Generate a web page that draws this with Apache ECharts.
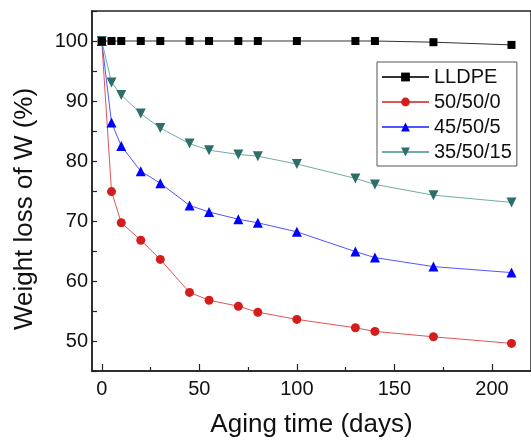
<!DOCTYPE html>
<html>
<head>
<meta charset="utf-8">
<script src="https://cdn.jsdelivr.net/npm/echarts@6/dist/echarts.min.js"></script>
<style>
html,body{margin:0;padding:0;background:#fff;}
#chart{width:531px;height:443px;}
</style>
</head>
<body>
<div id="chart"></div>
<script>
const days = [0, 5, 10, 20, 30, 45, 55, 70, 80, 100, 130, 140, 170, 210];
const seriesNames = ['LLDPE', '50/50/0', '45/50/5', '35/50/15'];
const lldpe = [100, 100, 100, 100, 100, 100, 100, 100, 100, 100, 100, 100, 99.8, 99.35];
const s50_50_0 = [100, 74.9, 69.7, 66.8, 63.6, 58.1, 56.8, 55.8, 54.8, 53.6, 52.2, 51.6, 50.7, 49.6];
const s45_50_5 = [100, 86.4, 82.5, 78.3, 76.3, 72.6, 71.5, 70.3, 69.7, 68.2, 64.9, 63.9, 62.4, 61.4];
const s35_50_15 = [100, 93.1, 91.0, 87.9, 85.5, 82.9, 81.8, 81.1, 80.8, 79.5, 77.1, 76.1, 74.3, 73.1];
const xMajorTicks = [0, 50, 100, 150, 200];
const xMinorTicks = [25, 75, 125, 175];
const xTitle = 'Aging time (days)';
const yTitle = 'Weight loss of W (%)';

const font = 'Liberation Sans, Arial, sans-serif';
const pair = arr => days.map((d, i) => [d, arr[i]]);

const chart = echarts.init(document.getElementById('chart'), null, {renderer: 'canvas'});
chart.setOption({
  backgroundColor: '#ffffff',
  animation: false,
  grid: {left: 92, top: 11, bottom: 71, right: -4, show: true, borderColor: '#222', borderWidth: 1.5, backgroundColor: 'transparent'},
  xAxis: [{
    type: 'value', min: -5, max: 220, position: 'bottom',
    axisLine: {show: true, onZero: false, lineStyle: {color: '#222', width: 1.5}},
    axisTick: {show: true, inside: true, length: 7, customValues: xMajorTicks, lineStyle: {color: '#222', width: 1.2}},
    axisLabel: {customValues: xMajorTicks, fontSize: 20, color: '#111', fontFamily: font, margin: 8},
    splitLine: {show: false},
    name: xTitle, nameLocation: 'middle', nameGap: 41,
    nameTextStyle: {fontSize: 26, color: '#111', fontFamily: font}
  }, {
    type: 'value', min: -5, max: 220, position: 'bottom',
    axisLine: {show: false, onZero: false},
    axisTick: {show: true, inside: true, length: 4, customValues: xMinorTicks, lineStyle: {color: '#222', width: 1.2}},
    axisLabel: {show: false},
    splitLine: {show: false}
  }],
  yAxis: {
    type: 'value', min: 45, max: 105, interval: 5,
    axisLine: {show: true, onZero: false, lineStyle: {color: '#222', width: 1.5}},
    axisTick: {show: true, inside: true, length: 5, lineStyle: {color: '#222', width: 1.2}},
    axisLabel: {fontSize: 20, color: '#111', fontFamily: font, margin: 4,
      formatter: v => (v % 10 === 0 ? String(v) : '')},
    splitLine: {show: false}
  },
  graphic: [{
    type: 'text', x: 25, y: 209, rotation: Math.PI / 2,
    style: {text: yTitle, font: '26px ' + font, fill: '#111', textAlign: 'center', textVerticalAlign: 'middle'}
  }],
  legend: {
    orient: 'vertical', left: 377, top: 62,
    itemWidth: 47, itemHeight: 11, itemGap: 5,
    padding: [5, 5, 4, 4],
    borderColor: '#555', borderWidth: 1, backgroundColor: '#fff',
    textStyle: {fontSize: 20, color: '#111', fontFamily: font},
    data: seriesNames
  },
  series: [{
    name: seriesNames[0], type: 'line', data: pair(lldpe), symbol: 'rect', symbolSize: 8,
    itemStyle: {color: '#000'}, lineStyle: {color: '#333', width: 1}, z: 5
  }, {
    name: seriesNames[1], type: 'line', data: pair(s50_50_0), symbol: 'circle', symbolSize: 9,
    itemStyle: {color: '#d41e1e'}, lineStyle: {color: '#dd5555', width: 1}
  }, {
    name: seriesNames[2], type: 'line', data: pair(s45_50_5), symbol: 'triangle', symbolSize: 10,
    itemStyle: {color: '#0000ff'}, lineStyle: {color: '#5555ff', width: 1}
  }, {
    name: seriesNames[3], type: 'line', data: pair(s35_50_15), symbol: 'triangle', symbolRotate: 180, symbolSize: 10,
    itemStyle: {color: '#2e6e69'}, lineStyle: {color: '#72aca5', width: 1}
  }]
});
</script>
</body>
</html>
